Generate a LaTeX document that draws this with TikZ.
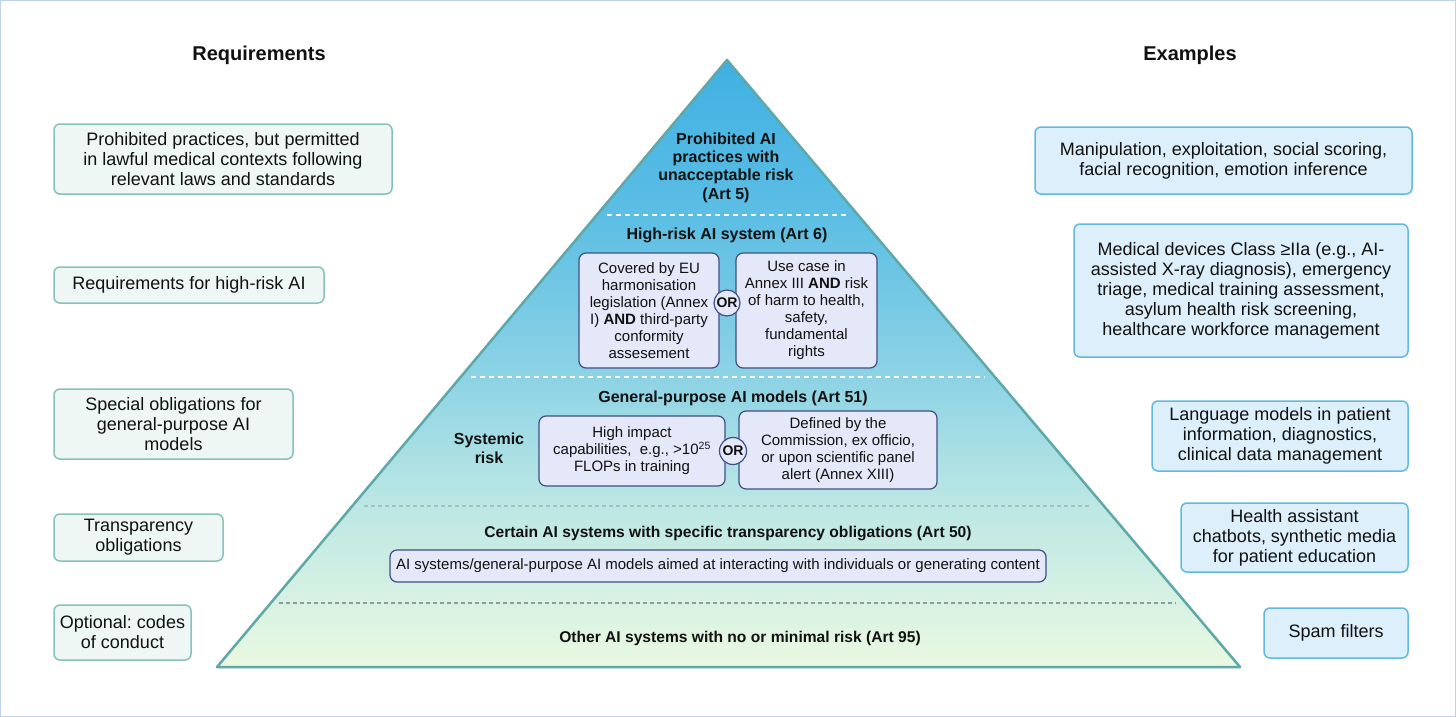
\documentclass[tikz,border=0pt]{standalone}
\usepackage{fontspec}
\setmainfont{Liberation Sans}
\usetikzlibrary{calc}
\frenchspacing
\definecolor{lfill}{HTML}{EFF7F4}
\definecolor{lborder}{HTML}{86C2BA}
\definecolor{rfill}{HTML}{DCEFFA}
\definecolor{rborder}{HTML}{62B9E0}
\definecolor{pfill}{HTML}{E5E8F8}
\definecolor{pborder}{HTML}{3F4F86}
\definecolor{pyredge}{HTML}{5FA8A8}
\definecolor{framec}{HTML}{BFD0EA}
\definecolor{dashg}{HTML}{8E9C9E}
\definecolor{dashl}{HTML}{A9BFC0}
\definecolor{txt}{HTML}{111111}
\definecolor{cA}{HTML}{EAF9E1}
\definecolor{cB}{HTML}{BCE7E4}
\definecolor{cC}{HTML}{8DD3E5}
\definecolor{cD}{HTML}{5CBEE4}
\definecolor{cE}{HTML}{40B0E2}
\pgfdeclareverticalshading{pyrshade}{100bp}{color(0bp)=(cA); color(25bp)=(cA); color(38.3bp)=(cB); color(48.9bp)=(cC); color(62.2bp)=(cD); color(75bp)=(cE); color(100bp)=(cE)}
\newcommand\ftL{\fontsize{18}{20}\selectfont}
\newcommand\ftP{\fontsize{15}{17}\selectfont}
\newcommand\ftT{\fontsize{16}{18.4}\selectfont\bfseries}
\newcommand\ftH{\fontsize{20}{24}\selectfont\bfseries}
\tikzset{
  lbox/.style={draw=lborder, fill=lfill, rounded corners=6pt, line width=1.5pt, align=center, font=\ftL, inner sep=0pt, text=txt},
  rbox/.style={draw=rborder, fill=rfill, rounded corners=6pt, line width=1.5pt, align=center, font=\ftL, inner sep=0pt, text=txt},
  pbox/.style={draw=pborder, fill=pfill, rounded corners=7pt, line width=1.2pt, align=center, font=\ftP, inner sep=0pt, text=txt},
  orc/.style={circle, draw=pborder, fill=pfill, line width=1.2pt, inner sep=0pt, font=\fontsize{14}{16}\selectfont\bfseries, text=txt},
  ttl/.style={align=center, font=\ftT, inner sep=0pt, text=txt},
  hdr/.style={font=\ftH, inner sep=0pt, text=txt},
  wdash/.style={draw=white, line width=1.5pt, dash pattern=on 5pt off 4pt},
  gdash/.style={draw=dashg, line width=1.2pt, dash pattern=on 4pt off 3pt},
  ldash/.style={draw=dashl, line width=1.2pt, dash pattern=on 4pt off 3pt}
}
\begin{document}
\begin{tikzpicture}[x=1pt, y=-1pt]
\useasboundingbox (0,0) rectangle (1456,717);
\fill[white] (0,0) rectangle (1456,717);
\draw[framec, line width=1pt] (0.5,0.5) rectangle (1455.5,716.5);

% pyramid
\coordinate (apex) at (727,60);
\coordinate (bl) at (217,667);
\coordinate (br) at (1240,667);
\shade[shading=pyrshade] (apex) -- (br) -- (bl) -- cycle;
\draw[pyredge, line width=2.5pt, line join=round] (apex) -- (br) -- (bl) -- cycle;

% separators
\draw[wdash] (607,215) -- (848,215);
\draw[wdash] (471,377) -- (985,377);
\draw[ldash] (364,506) -- (1090,506);
\draw[gdash] (279,603) -- (1176,603);

% headers
\node[hdr] (hreq) at (259,55) {Requirements};
\node[hdr] (hex) at (1190,55) {Examples};

% left boxes
\node[lbox, minimum width=338pt, minimum height=70pt] (L1) at (223,159) {Prohibited practices, but permitted\\in lawful medical contexts following\\relevant laws and standards};
\node[lbox, minimum width=270pt, minimum height=36pt] (L2) at (189,285) {Requirements for high-risk AI};
\node[lbox, minimum width=239pt, minimum height=70pt] (L3) at (173.5,424) {Special obligations for\\general-purpose AI\\models};
\node[lbox, minimum width=169pt, minimum height=47pt] (L4) at (138.5,537.5) {Transparency\\obligations};
\node[lbox, minimum width=137pt, minimum height=55pt] (L5) at (122.5,632.5) {Optional: codes\\of conduct};

% right boxes
\node[rbox, minimum width=377pt, minimum height=67pt] (R1) at (1223.5,160.5) {Manipulation, exploitation, social scoring,\\facial recognition, emotion inference};
\node[rbox, minimum width=334pt, minimum height=133pt] (R2) at (1241,290.5) {Medical devices Class ≥IIa (e.g., AI-\\assisted X-ray diagnosis), emergency\\triage, medical training assessment,\\asylum health risk screening,\\healthcare workforce management};
\node[rbox, minimum width=256pt, minimum height=70pt] (R3) at (1280,436) {Language models in patient\\information, diagnostics,\\clinical data management};
\node[rbox, minimum width=227pt, minimum height=69pt] (R4) at (1294.5,537.5) {Health assistant\\chatbots, synthetic media\\for patient education};
\node[rbox, minimum width=144pt, minimum height=50pt] (R5) at (1336,633) {Spam filters};

% pyramid contents
\node[ttl] (T1) at (726,167.5) {Prohibited AI\\practices with\\unacceptable risk\\(Art 5)};
\node[ttl] (T2) at (727,235) {High-risk AI system (Art 6)};
\node[pbox, minimum width=140pt, minimum height=115pt] (BL) at (649,310.5) {Covered by EU\\harmonisation\\legislation (Annex\\I) \textbf{AND} third-party\\conformity\\assesement};
\node[pbox, minimum width=141pt, minimum height=115pt] (BR) at (806.5,310.5) {Use case in\\Annex III \textbf{AND} risk\\of harm to health,\\safety,\\fundamental\\rights};
\node[orc, minimum size=26pt] (OR1) at (727,303) {OR};

\node[ttl] (T3) at (733,398) {General-purpose AI models (Art 51)};
\node[ttl, font=\fontsize{16}{19}\selectfont\bfseries] (SR) at (489,448.5) {Systemic\\risk};
\node[pbox, minimum width=186pt, minimum height=70pt] (G1) at (632,451) {High impact\\capabilities,\ \ e.g., >10\textsuperscript{25}\\FLOPs in training};
\node[pbox, minimum width=198pt, minimum height=78pt] (G2) at (838,450) {Defined by the\\Commission, ex officio,\\or upon scientific panel\\alert (Annex XIII)};
\node[orc, minimum size=27pt] (OR2) at (733,451) {OR};

\node[ttl, font=\fontsize{15.6}{18}\selectfont\bfseries] (T4) at (728,533) {Certain AI systems with specific transparency obligations (Art 50)};
\node[pbox, minimum width=656pt, minimum height=32pt] (TB) at (718,566) {AI systems/general-purpose AI models aimed at interacting with individuals or generating content};

\node[ttl, font=\fontsize{15.6}{18}\selectfont\bfseries] (T5) at (740,638) {Other AI systems with no or minimal risk (Art 95)};
\end{tikzpicture}
\end{document}
